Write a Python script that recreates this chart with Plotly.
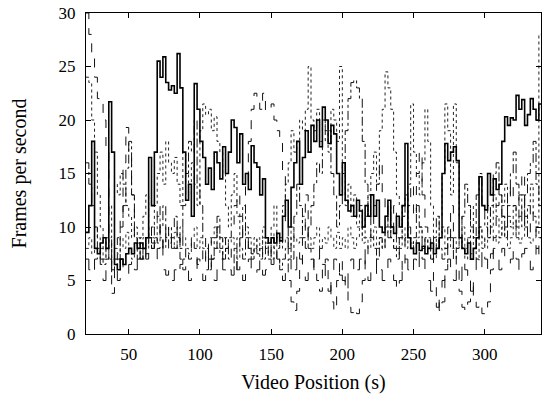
import plotly.graph_objects as go

# Sample times (s)
t = list(range(20, 341, 2))

# Frame rates (fps), one list per client
fps_solid = [
    9.5, 12, 18, 8, 7.5, 8.5, 9, 8, 21.7, 17,
    6.5, 6, 7, 6.5, 7.5, 8, 7.5, 8.5, 8, 8.5,
    8, 9, 16.5, 12, 17, 25.5, 24, 25.9, 23.5, 22.8,
    23.2, 22.5, 26.2, 23, 17, 12.5, 14, 11, 23.4, 21,
    18, 16.5, 14, 15.5, 13.5, 17, 16, 14.5, 17.5, 15,
    17, 20, 19.3, 16, 18.7, 14, 15, 13.5, 17.6, 16,
    15.6, 13, 14.5, 9, 8.5, 9, 8.5, 9.4, 8.7, 11,
    12.5, 10, 13.7, 16, 18, 14, 16.5, 19, 17, 19.5,
    18, 20, 17.5, 21.2, 20, 17.8, 19.5, 18.7, 15, 13,
    16, 12.5, 11.5, 12, 11, 12.5, 11.5, 10, 12, 11,
    13, 11, 12.5, 10, 9.5, 11, 12.5, 10, 9.4, 11,
    10, 12, 17.8, 9, 8, 7.5, 8.5, 7.8, 8.2, 7.5,
    8, 8.5, 7.5, 8, 9, 15, 17.8, 16.2, 17, 17.5,
    16.2, 9, 8, 7.5, 8.5, 7, 8, 9, 14.7, 12,
    11.6, 15, 13, 14.5, 13.5, 14, 18, 20.3, 19.5, 20.2,
    20, 22.3, 21, 21.9, 19.5, 20.5, 22, 21, 20, 21.5,
    21,
]
fps_dot = [
    24, 23.5, 20, 17, 13, 10, 8, 7, 9, 12,
    14, 13, 15, 14, 12, 11, 9, 10, 8.5, 9,
    11, 13, 9, 10, 12, 15, 17, 14, 18, 16,
    15, 16.5, 14, 12, 17, 15, 13, 16, 14, 12,
    19, 21.5, 20.5, 21, 19, 20.3, 18, 17, 15, 12,
    10, 13, 15, 11, 9, 12, 10, 8, 7.5, 9,
    8, 7, 9, 8, 7.5, 10, 12, 9, 8, 12,
    14, 16, 19, 17, 18, 20, 19, 21, 25, 20,
    19, 21, 18, 20, 19, 17, 21, 20, 18, 25,
    15, 12, 14, 11, 13, 10, 12, 9, 11, 13,
    15, 17, 14, 19, 21, 24.5, 23, 21, 17, 13,
    12, 9, 8, 14, 21.5, 17, 15, 13, 16, 21,
    18, 12, 9, 8, 11, 15, 21.5, 19, 13, 21.5,
    16, 11, 8, 7, 9, 12, 8, 7, 10, 8,
    9, 12, 10, 13, 11, 9, 12, 14, 11, 10,
    12, 9, 11, 13, 10, 12, 14, 11, 10, 28,
    24,
]
fps_dash = [
    30, 28, 26, 24, 22, 22, 20, 17, 9, 3.8,
    7, 9, 11, 16, 19.3, 17, 13, 9, 8, 7,
    8, 7.5, 9, 8, 10, 12, 9, 8, 10, 8.5,
    9, 8, 10, 7, 6, 8, 7, 9, 8, 6.5,
    7, 8, 6, 9, 7, 8, 10, 9, 7, 8,
    9, 10, 12, 13, 11, 9, 14, 18, 21, 22.5,
    22, 21, 22.5, 20.9, 21, 21.5, 20, 19, 18, 15,
    10, 5, 3, 2.2, 4, 6, 9, 13, 8, 7,
    6, 5, 4, 6, 7, 5, 3, 2.2, 5, 7,
    6, 4, 2.5, 2, 2.3, 1.9, 3, 5, 7, 9,
    10, 12, 14, 16, 13, 11, 9, 10, 12, 8,
    7, 6, 9, 12, 14, 11, 15, 17, 13, 10,
    9, 7, 5, 3.2, 2.2, 3, 6, 9, 12, 8,
    6, 4, 2.5, 2.2, 3, 5, 3, 2.5, 2.8, 1.9,
    2.5, 3, 6, 9, 12, 13, 11, 10, 12, 14,
    12, 10, 13, 15, 11, 9, 12, 10, 8, 9,
    10,
]
fps_dashdot = [
    16, 14, 12, 10, 8, 7, 6.5, 7, 8, 6,
    6.5, 7, 10, 12, 15.5, 18, 13, 9, 7, 8,
    7, 9, 10, 8, 9, 8.5, 10, 12, 9, 8,
    10, 11, 9, 8, 12, 15, 18, 17, 20, 14,
    12, 9, 8, 6, 7, 9, 11, 8, 7, 9,
    7, 8, 6, 9, 8, 7, 9, 8, 7, 8,
    7.5, 8, 7, 8.5, 7, 9, 8, 7, 6, 7,
    8, 9, 7, 11, 14, 12, 9, 8, 10, 12,
    14, 16, 15, 18, 20, 19, 15, 13, 10, 12,
    15, 19, 22, 23.5, 23.7, 23, 22, 18, 14, 11,
    9, 8, 7, 9, 8, 10, 12, 9, 8, 7,
    9, 11, 13, 10, 8, 9, 12, 10, 8, 9,
    8, 7, 9, 11, 8, 7, 8, 10, 9, 7,
    8, 9, 11, 14, 12, 10, 9, 13, 15, 12,
    10, 9, 12, 15, 16, 13, 11, 9, 13, 15,
    17, 14, 12, 10, 13, 15, 16, 18, 14, 12,
    11,
]
fps_longdash = [
    7, 6, 5.5, 7, 8, 6.5, 5, 6, 7, 5.5,
    6, 5, 7, 6, 5.5, 6.5, 7, 6, 8, 7,
    8, 7, 9, 8.5, 7, 8, 9, 6, 5.5, 6,
    5, 6, 5.5, 6.5, 7, 6, 5, 5.5, 6, 7,
    6, 5, 5.5, 7, 6, 5, 6.5, 7, 6, 5.5,
    6, 5.5, 7, 6, 6.5, 5, 6, 7, 6, 5.5,
    6, 7, 5.5, 6, 7, 6.5, 8, 7, 6, 5,
    6, 7, 5.5, 6, 8, 7, 6, 5, 6.5, 7,
    6, 7, 8, 6.5, 5, 4, 6, 7, 6, 5.5,
    5, 4, 6, 7, 5.5, 6, 7, 8, 6, 5,
    6, 5.5, 7, 6, 5, 6, 7, 6.5, 5, 4,
    5, 6, 7, 6, 5.5, 7, 6, 8, 7, 6,
    5, 4, 3, 2.5, 3.5, 5, 6, 7, 6, 5,
    6, 5, 7, 6, 5, 4, 6, 7, 6, 8,
    7, 6, 7.5, 8, 7, 6, 8, 7, 6.5, 7,
    8, 7, 6, 7.5, 8, 7, 6, 7, 8, 7,
    7.5,
]
fps_lowdot = [
    8, 9, 7.5, 10, 9, 8, 7, 9, 8.5, 7,
    8, 7.5, 9, 8, 9.5, 8, 7, 8.5, 9, 8,
    9, 8, 10, 9, 8.5, 11, 9, 8, 10, 9,
    8, 9.5, 8, 10, 9, 8, 7.5, 9, 10, 8,
    9, 8, 7, 8.5, 9, 10, 8, 7.5, 9, 8,
    8.5, 9, 8, 7, 9, 10, 8, 9, 7.5, 8,
    9, 8, 10, 9, 8, 7, 9.5, 8, 9, 8.5,
    9, 8, 10, 9, 8.5, 9, 11, 10, 9, 8,
    9, 10, 8, 9, 8.5, 10, 9, 8, 9.5, 8,
    9, 8, 10, 9, 8, 9, 10, 8.5, 9, 8,
    9, 10, 8, 9, 8, 9.5, 10, 9, 8, 9,
    8, 9, 10, 9, 8.5, 8, 9, 10, 9, 8,
    9, 8, 7, 8.5, 9, 10, 8, 9, 8, 9,
    8, 9, 10, 8, 9, 7.5, 8, 9, 10, 9,
    8, 9, 10, 9, 8.5, 9, 10, 9, 8, 9,
    10, 9, 8.5, 9, 10, 9, 8.5, 9, 10, 9,
    9,
]

series = [
    (fps_lowdot, "dot", 1.0, "#333333"),
    (fps_dot, "dot", 1.0, "#222222"),
    (fps_dash, "dash", 1.0, "#111111"),
    (fps_dashdot, "dashdot", 1.0, "#111111"),
    (fps_longdash, "longdash", 1.0, "#111111"),
    (fps_solid, "solid", 1.6, "#000000"),
]

fig = go.Figure()
for vals, dash, w, col in series:
    fig.add_trace(go.Scatter(
        x=t, y=vals, mode="lines", line_shape="hv",
        line=dict(color=col, width=w, dash=dash), showlegend=False,
    ))

font = dict(family="Liberation Serif, Times New Roman, serif", size=17, color="black")
fig.update_layout(
    width=542, height=396,
    margin=dict(l=86, r=1, t=13, b=62),
    paper_bgcolor="white", plot_bgcolor="white",
    font=font,
    showlegend=False,
)
fig.update_xaxes(
    range=[20, 339.5], tickvals=[50, 100, 150, 200, 250, 300],
    ticks="inside", ticklen=5, tickcolor="black", mirror="ticks",
    showline=True, linecolor="black", linewidth=1.2, showgrid=False, zeroline=False,
    ticklabelstandoff=4,
    title=dict(text="Video Position (s)", standoff=12), tickfont=font,
)
fig.update_yaxes(
    range=[0, 30], tickvals=[0, 5, 10, 15, 20, 25, 30],
    ticks="inside", ticklen=5, tickcolor="black", mirror="ticks",
    showline=True, linecolor="black", linewidth=1.2, showgrid=False, zeroline=False,
    ticklabelstandoff=6,
    title=dict(text="Frames per second", standoff=26), tickfont=font,
)
fig.write_html("out.html")
